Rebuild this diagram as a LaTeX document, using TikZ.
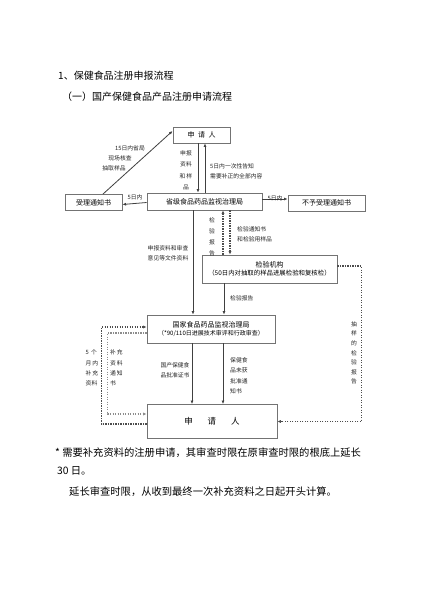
\documentclass[tikz,border=0pt]{standalone}
\usepackage{fontspec}
\newfontfamily\cjk{Noto Sans CJK SC}
\usetikzlibrary{positioning,arrows.meta}

\newcommand\boxfont{\cjk\fontsize{7}{9.5}\selectfont}
\tikzset{
  box/.style={draw=black!55, line width=0.9pt, fill=white, inner sep=1pt, align=center, font=\boxfont},
  lbl/.style={inner sep=0pt, align=center, text=black!85, font=\cjk\fontsize{5.8}{11.5}\selectfont},
  head/.style={inner sep=0pt, anchor=west, font=\cjk\fontsize{10}{12}\selectfont},
  note/.style={inner sep=0pt, anchor=west, font=\cjk\fontsize{10.3}{12}\selectfont},
  flow/.style={draw=black!75, line width=0.8pt, -{Latex[length=3.5pt,width=3pt]}},
  dots/.style={draw=black!70, line width=1.2pt, dash pattern=on 1.3pt off 1.2pt},
  dotflow/.style={dots, -{Latex[length=3.5pt,width=3.2pt]}},
}

\begin{document}
\begin{tikzpicture}[x=1pt,y=-1pt]
  \useasboundingbox[fill=white] (0,0) rectangle (424,600);

  % headings
  \node[head] (ttl) at (58,76) {1、保健食品注册申报流程};
  \node[head] (sub) at (62,97) {（一）国产保健食品产品注册申请流程};

  % boxes
  \node[box, minimum width=57pt, minimum height=16pt] (appT) at (201.5,135) {申\enspace 请\enspace 人};
  \node[box, minimum width=115pt, minimum height=17pt] (prov) at (204.5,201.5) {省级食品药品监视治理局};
  \node[box, minimum width=57pt, minimum height=16pt] (acpt) at (93.5,202.5) {受理通知书};
  \node[box, minimum width=77pt, minimum height=16pt] (rjct) at (326.5,203) {不予受理通知书};
  \node[box, minimum width=135pt, minimum height=28pt] (insp) at (269.5,269)
    {检验机构\\[-2pt]{\fontsize{6.4}{8}\selectfont （50日内对抽取的样品进展检验和复核检）}};
  \node[box, minimum width=128pt, minimum height=28pt] (natl) at (211,329)
    {国家食品药品监视治理局\\[-2pt]{\fontsize{6}{8}\selectfont （*90/110日进展技术审评和行政审查）}};
  \node[box, minimum width=130pt, minimum height=34pt, font=\cjk\fontsize{8.5}{10}\selectfont] (appB) at (212,421.5)
    {申\hspace{15pt}请\hspace{15pt}人};

  % provincial stage
  \draw[flow] ([xshift=-3.5pt]appT.south) -- ([xshift=-6.5pt]prov.north);
  \draw[flow] ([xshift=0.5pt]prov.north) -- ([xshift=3.5pt]appT.south);
  \draw[flow] ([xshift=9.5pt]acpt.north) -- ([yshift=4pt]appT.west);
  \draw[flow] ([yshift=-1pt]prov.west) -- ([yshift=-2pt]acpt.east);
  \draw[flow] ([yshift=2.5pt]prov.east) -- ([yshift=4pt]rjct.west);

  \node[lbl] (l15a) at (130,148) {15日内省局};
  \node[lbl] (l15b) at (120,158) {现场核查};
  \node[lbl] (l15c) at (114,168) {抽取样品};
  \node[lbl] (lsub) at (186,170.5) {申报\\资料\\和\,样\\品};
  \node[lbl, anchor=west, align=left, font=\cjk\fontsize{5.8}{10}\selectfont] (ltel) at (210,171)
    {5日内一次性告知\\需要补正的全部内容};
  \node[lbl] (lacp) at (135,197) {5日内};
  \node[lbl] (lrej) at (275,198) {5日内};

  % inspection
  \draw[dotflow] ([xshift=-46.5pt]insp.north) -- ([xshift=18.5pt]prov.south);
  \draw[dotflow] ([xshift=25.5pt]prov.south) -- ([xshift=-39.5pt]insp.north);
  \draw[flow] ([xshift=-11.5pt]prov.south) -- ([xshift=-18pt]natl.north);
  \draw[flow] ([xshift=-45.5pt]insp.south) -- ([xshift=13pt]natl.north);
  \draw[dotflow] ([yshift=3pt]insp.east) -- ++(24,0) |- (appB.east);

  \node[lbl, font=\cjk\fontsize{5.8}{11}\selectfont] (lrpt) at (212,236.5) {检\\验\\报\\告};
  \node[lbl, anchor=west, align=left, font=\cjk\fontsize{5.8}{10}\selectfont] (lnot) at (237,234)
    {检验通知书\\和检验用样品};
  \node[lbl, align=left, font=\cjk\fontsize{5.8}{10}\selectfont] (ldoc) at (168,253.5)
    {申报资料和审查\\意见等文件资料};
  \node[lbl, anchor=west] (lrp2) at (230,298) {检验报告};
  \node[lbl, font=\cjk\fontsize{5.8}{9.6}\selectfont] (lsmp) at (354,353) {抽\\样\\的\\检\\验\\报\\告};

  % national stage
  \draw[flow] ([xshift=-19pt]natl.south) -- ([xshift=-20pt]appB.north);
  \draw[flow] ([xshift=12pt]natl.south) -- ([xshift=11pt]appB.north);
  \draw[dotflow] ([yshift=-2.5pt]appB.west) -- ++(-45,0) |- ([yshift=2pt]natl.west);
  \draw[dotflow, draw=black!45] ([yshift=-4pt]natl.west) -- ++(-39,0) |- ([yshift=7.5pt]appB.west);

  \node[lbl, align=left, font=\cjk\fontsize{5.8}{10}\selectfont] (lcrt) at (175,370) {国产保健食\\品批准证书};
  \node[lbl, anchor=west, align=left, font=\cjk\fontsize{5.8}{10.5}\selectfont] (lrfs) at (230,376)
    {保健食\\品未获\\批准通\\知书};
  \node[lbl, align=left, font=\cjk\fontsize{5.8}{10.3}\selectfont] (lmon) at (92,368) {5\,\ 个\\月\,内\\补\,充\\资料};
  \node[lbl, anchor=west, align=left, font=\cjk\fontsize{5.8}{10.3}\selectfont] (lsup) at (110,368) {补\,充\\资\,料\\通\,知\\书};

  % footnote
  \node[note] (fn1) at (55,453) {*\ 需要补充资料的注册申请，其审查时限在原审查时限的根底上延长};
  \node[note] (fn2) at (57,471) {30 日。};
  \node[note] (fn3) at (69,492) {延长审查时限，从收到最终一次补充资料之日起开头计算。};
\end{tikzpicture}
\end{document}
